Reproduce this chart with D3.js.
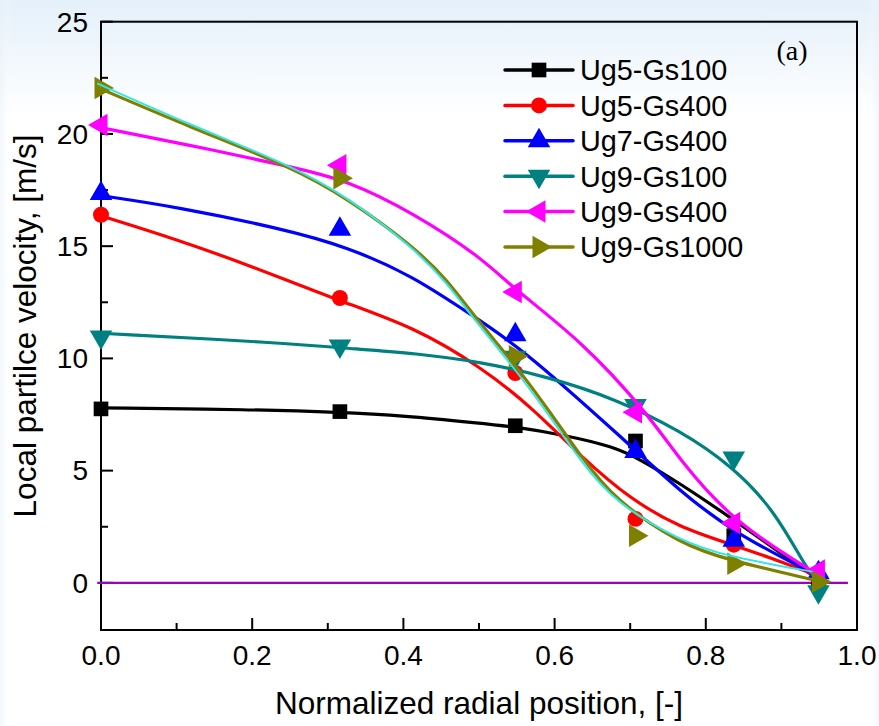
<!DOCTYPE html>
<html>
<head>
<meta charset="utf-8">
<script src="https://cdn.jsdelivr.net/npm/d3@7"></script>
<style>
  body { margin: 0; background: #fff; }
  #myPlot svg { display: block; }
</style>
</head>
<body>
<div id="myPlot"></div>
<script>
// measured radial positions (sqrt of 0,0.1,0.3,0.5,0.7,0.9)
const radialPos = [0, 0.316, 0.548, 0.707, 0.837, 0.949];

const seriesNames = ["Ug5-Gs100", "Ug5-Gs400", "Ug7-Gs400", "Ug9-Gs100", "Ug9-Gs400", "Ug9-Gs1000"];
const seriesColors = ["#000000", "#ff0000", "#0000ff", "#008080", "#ff00ff", "#808000"];
const seriesSymbols = ["square", "circle", "up", "down", "left", "right"];

// marker values [m/s]
const ug5gs100 = [7.75, 7.63, 7.0, 6.32, 2.1, 0.1];
const ug5gs400 = [16.4, 12.69, 9.35, 2.85, 1.7, 0.2];
const ug7gs400 = [17.35, 15.75, 11.05, 5.85, 1.9, 0.45];
const ug9gs100 = [10.95, 10.55, 10.05, 7.9, 5.56, -0.4];
const ug9gs400 = [20.4, 18.6, 12.96, 7.6, 2.67, 0.55];
const ug9gs1000 = [22.05, 18.03, 10.1, 2.1, 0.85, 0.05];

// fitted curves, [x, v]
const fit5_100 = [[0, 7.8], [0.2, 7.72], [0.316, 7.6], [0.4, 7.45], [0.502, 7.11], [0.546, 6.96], [0.612, 6.59], [0.678, 6.07], [0.714, 5.49], [0.767, 4.4], [0.829, 3.0], [0.9, 1.3], [0.949, 0.15]];
const fit5_400 = [[0, 16.35], [0.1, 15.3], [0.2, 14.1], [0.316, 12.55], [0.414, 11.4], [0.502, 9.63], [0.569, 7.85], [0.635, 5.62], [0.701, 3.7], [0.767, 2.45], [0.829, 1.77], [0.9, 0.95], [0.949, 0.3]];
const fit7_400 = [[0, 17.25], [0.1, 16.75], [0.2376, 15.79], [0.326, 14.97], [0.414, 13.64], [0.48, 12.15], [0.555, 10.52], [0.692, 6.37], [0.767, 4.05], [0.838, 2.21], [0.949, 0.3]];
const fit9_100 = [[0, 11.12], [0.2376, 10.7], [0.3435, 10.4], [0.414, 10.23], [0.502, 9.85], [0.591, 9.18], [0.679, 8.22], [0.767, 6.77], [0.833, 5.25], [0.891, 3.25], [0.935, 0.5], [0.949, 0.1]];
const fit9_400 = [[0, 20.28], [0.118, 19.5], [0.251, 18.54], [0.326, 17.94], [0.414, 16.46], [0.502, 14.53], [0.546, 13.1], [0.635, 10.8], [0.723, 7.56], [0.767, 5.4], [0.838, 2.66], [0.949, 0.35]];
const fit9_1000 = [[0, 22.0], [0.118, 20.3], [0.251, 18.54], [0.326, 17.13], [0.414, 14.97], [0.458, 13.5], [0.493, 11.9], [0.546, 9.8], [0.591, 7.75], [0.635, 5.62], [0.679, 3.7], [0.767, 1.72], [0.829, 1.02], [0.949, 0.08]];
// extra cyan fit drawn over Ug9-Gs1000
const fitCyan = [[-0.005, 22.25], [0.118, 20.4], [0.251, 18.6], [0.326, 17.2], [0.414, 14.9], [0.458, 13.35], [0.493, 11.75], [0.546, 9.6], [0.591, 7.55], [0.635, 5.4], [0.679, 3.6], [0.767, 1.85], [0.829, 1.17], [0.941, 0.5]];

// reference line at zero
const zeroLine = [[-0.005, 0], [0.988, 0]];

const xTicks = [0, 0.2, 0.4, 0.6, 0.8, 1.0];
const xMinor = [0.1, 0.3, 0.5, 0.7, 0.9];
const yTicks = [0, 5, 10, 15, 20, 25];
const yMinor = [2.5, 7.5, 12.5, 17.5, 22.5];

const markerData = [ug5gs100, ug5gs400, ug7gs400, ug9gs100, ug9gs400, ug9gs1000];
const fitData = [fit5_100, fit5_400, fit7_400, fit9_100, fit9_400, fit9_1000];

const width = 879;
const height = 726;
const marginTop = 21.7;
const marginBottom = 96;
const marginLeft = 101;
const plotRight = 857;

const x = d3.scaleLinear().domain([0, 1]).range([marginLeft, plotRight]);
const y = d3.scaleLinear().domain([-2.1, 25]).range([height - marginBottom, marginTop]);

const svg = d3.select("#myPlot")
    .append("svg")
    .attr("width", width)
    .attr("height", height)
    .attr("viewBox", [0, 0, width, height])
    .style("font-family", "'Liberation Sans', Arial, sans-serif");

// soft blue background wash
const defs = svg.append("defs");
const gv = defs.append("linearGradient").attr("id", "bgv").attr("x1", 0).attr("y1", 0).attr("x2", 0).attr("y2", 1);
gv.append("stop").attr("offset", "0").attr("stop-color", "#e4f0fa");
gv.append("stop").attr("offset", "0.16").attr("stop-color", "#ffffff");
gv.append("stop").attr("offset", "1").attr("stop-color", "#ffffff");
const gh = defs.append("linearGradient").attr("id", "bgh").attr("x1", 0).attr("y1", 0).attr("x2", 1).attr("y2", 0);
gh.append("stop").attr("offset", "0").attr("stop-color", "#e6f0f9").attr("stop-opacity", 0.5);
gh.append("stop").attr("offset", "0.015").attr("stop-color", "#ffffff").attr("stop-opacity", 0);
gh.append("stop").attr("offset", "0.985").attr("stop-color", "#ffffff").attr("stop-opacity", 0);
gh.append("stop").attr("offset", "1").attr("stop-color", "#e6f0f9").attr("stop-opacity", 0.5);
svg.append("rect").attr("width", width).attr("height", height).attr("fill", "url(#bgv)");
svg.append("rect").attr("width", width).attr("height", height).attr("fill", "url(#bgh)");

// Frame
svg.append("rect")
    .attr("x", x(0))
    .attr("y", y(25))
    .attr("width", x(1) - x(0))
    .attr("height", y(-2.1) - y(25))
    .attr("fill", "none")
    .attr("stroke", "#000")
    .attr("stroke-width", 2);

// Bottom axis ticks (inward)
const bottom = svg.append("g").attr("stroke", "#000").attr("stroke-width", 2);
bottom.selectAll(".maj").data(xTicks).join("line")
    .attr("x1", d => x(d)).attr("x2", d => x(d))
    .attr("y1", y(-2.1)).attr("y2", y(-2.1) - 12);
bottom.selectAll(".min").data(xMinor).join("line")
    .attr("x1", d => x(d)).attr("x2", d => x(d))
    .attr("y1", y(-2.1)).attr("y2", y(-2.1) - 7);
svg.append("g").selectAll("text").data(xTicks).join("text")
    .attr("x", d => x(d))
    .attr("y", y(-2.1) + 35)
    .attr("text-anchor", "middle")
    .attr("font-size", 28)
    .text(d => d3.format(".1f")(d));

// Left axis ticks (inward)
const left = svg.append("g").attr("stroke", "#000").attr("stroke-width", 2);
left.selectAll(".maj").data(yTicks).join("line")
    .attr("x1", x(0)).attr("x2", x(0) + 12)
    .attr("y1", d => y(d)).attr("y2", d => y(d));
left.selectAll(".min").data(yMinor).join("line")
    .attr("x1", x(0)).attr("x2", x(0) + 7)
    .attr("y1", d => y(d)).attr("y2", d => y(d));
svg.append("g").selectAll("text").data(yTicks).join("text")
    .attr("x", x(0) - 13)
    .attr("y", d => y(d))
    .attr("dy", "0.35em")
    .attr("text-anchor", "end")
    .attr("font-size", 28)
    .text(d => d);

// Axis titles
svg.append("text")
    .attr("x", 479)
    .attr("y", 714)
    .attr("text-anchor", "middle")
    .attr("font-size", 31.5)
    .text("Normalized radial position, [-]");
svg.append("text")
    .attr("transform", `translate(36,326) rotate(-90)`)
    .attr("text-anchor", "middle")
    .attr("font-size", 31.5)
    .text("Local partilce velocity, [m/s]");

// Panel label
svg.append("text")
    .attr("x", 792)
    .attr("y", 60)
    .attr("text-anchor", "middle")
    .attr("font-size", 28)
    .attr("font-family", "'Liberation Serif', 'Times New Roman', serif")
    .text("(a)");

// zero line
const line = d3.line().x(d => x(d[0])).y(d => y(d[1]));
const curve = d3.line().x(d => x(d[0])).y(d => y(d[1])).curve(d3.curveBasis);

svg.append("path")
    .attr("d", line(zeroLine))
    .attr("fill", "none")
    .attr("stroke", "#9a00c8")
    .attr("stroke-width", 2.2);

function symbolPath(kind) {
  if (kind === "square") return d3.symbol(d3.symbolSquare, 215)();
  if (kind === "circle") return d3.symbol(d3.symbolCircle, 200)();
  return d3.symbol(d3.symbolTriangle, 220)();
}
function symbolRotate(kind) {
  return {up: 0, down: 180, left: -90, right: 90}[kind] || 0;
}

// Draw series: fitted line then markers
seriesNames.forEach((name, i) => {
  const g = svg.append("g");
  g.append("path")
      .attr("d", curve(fitData[i]))
      .attr("fill", "none")
      .attr("stroke", seriesColors[i])
      .attr("stroke-width", 3.2)
      .attr("stroke-linejoin", "round");
  g.selectAll("path.m")
    .data(markerData[i])
    .join("path")
      .attr("class", "m")
      .attr("d", symbolPath(seriesSymbols[i]))
      .attr("transform", (d, j) => `translate(${x(radialPos[j])},${y(d)}) rotate(${symbolRotate(seriesSymbols[i])})`)
      .attr("fill", seriesColors[i]);
  if (i === 5) {
    svg.append("path")
        .attr("d", curve(fitCyan))
        .attr("fill", "none")
        .attr("stroke", "#33e6e6")
        .attr("stroke-width", 2);
  }
});

// Legend
const legend = svg.append("g");
const legendX = 505, legendY = 70, legendStep = 35.4;
seriesNames.forEach((name, i) => {
  const ly = legendY + i * legendStep;
  legend.append("line")
      .attr("x1", legendX).attr("x2", legendX + 68)
      .attr("y1", ly).attr("y2", ly)
      .attr("stroke", seriesColors[i])
      .attr("stroke-width", 3.5)
      .attr("stroke-linecap", "round");
  legend.append("path")
      .attr("d", symbolPath(seriesSymbols[i]))
      .attr("transform", `translate(${legendX + 34},${ly}) rotate(${symbolRotate(seriesSymbols[i])})`)
      .attr("fill", seriesColors[i]);
  legend.append("text")
      .attr("x", legendX + 75)
      .attr("y", ly)
      .attr("dy", "0.36em")
      .attr("font-size", 28.8)
      .text(name);
});
</script>
</body>
</html>
